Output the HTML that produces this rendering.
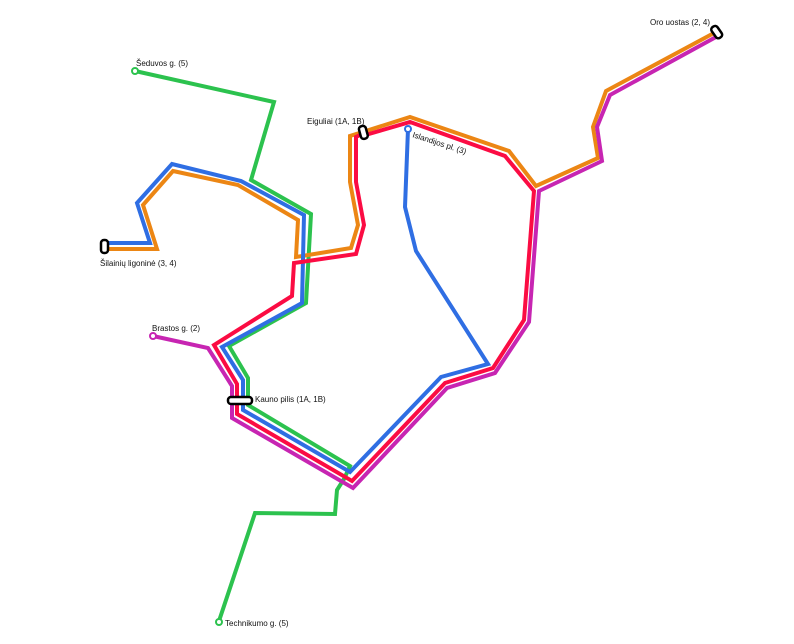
<!DOCTYPE html>
<html><head><meta charset="utf-8"><style>
html,body{margin:0;padding:0;background:#fff;}
svg{display:block;}
text{font-family:"Liberation Sans",sans-serif;font-size:8px;fill:#111;}
</style></head><body>
<svg width="794" height="644" viewBox="0 0 794 644" xmlns="http://www.w3.org/2000/svg">
<g fill="none" stroke-width="4" stroke-linejoin="miter">
<!-- green -->
<polyline stroke="#2cc24e" points="135,71 274,102 251,180 311,214 306,303 229,346 248,378 248,405 350,466 344,479 337,490 335,514 255,513 219,621"/>
<!-- orange -->
<polyline stroke="#ec8614" points="714,33 606,91 593,127 598,158 536,186 509,151 410,117 350,136 350,182 358,225 351,248 296,257 298,220 238,185 173,171 143,205 157,249 107,249"/>
<!-- blue -->
<polyline stroke="#2f6ee3" points="107,243 150,243 137,203 172,164 241,181 304,215 302,303 222,347 243,380 243,410 350,472 441,377 488,364 416,251 405,207 408,129"/>
<!-- red -->
<polyline stroke="#fb0c43" points="362,134 356,137 356,182 364,225 356,254 294,263 292,296 214,345 237,384 237,414 352,481 445,383 493,368 524,320 534,191 505,156 410,122 362,136"/>
<!-- magenta -->
<polyline stroke="#c725b2" points="716,37 610,95 597,127 602,161 539,191 529,322 495,373 447,388 353,488 232,418 232,386 208,348 153,336"/>
</g>
<!-- stations -->
<g fill="#fff" stroke-width="2">
<circle cx="135" cy="71" r="3" stroke="#2cc24e"/>
<circle cx="219" cy="622" r="3" stroke="#2cc24e"/>
<circle cx="153" cy="336" r="3" stroke="#c725b2"/>
<circle cx="408" cy="129" r="3" stroke="#2f6ee3"/>
<rect x="101" y="240" width="7" height="13" rx="3" stroke="#000" stroke-width="2.5"/>
<rect x="228" y="397" width="24" height="7" rx="3" stroke="#000" stroke-width="2.5"/>
<rect x="360" y="126" width="7" height="13" rx="3" stroke="#000" stroke-width="2.5" transform="rotate(-15 363 133)"/>
<rect x="713" y="26" width="7" height="13" rx="3" stroke="#000" stroke-width="2.5" transform="rotate(-35 716 32)"/>
</g>
<text x="136" y="66">Šeduvos g. (5)</text>
<text x="307" y="124">Eiguliai (1A, 1B)</text>
<text x="412" y="137" transform="rotate(18 412 137)">Islandijos pl. (3)</text>
<text x="650" y="25">Oro uostas (2, 4)</text>
<text x="100" y="266">Šilainių ligoninė (3, 4)</text>
<text x="152" y="331">Brastos g. (2)</text>
<text x="255" y="402">Kauno pilis (1A, 1B)</text>
<text x="225" y="626">Technikumo g. (5)</text>
</svg>
</body></html>
